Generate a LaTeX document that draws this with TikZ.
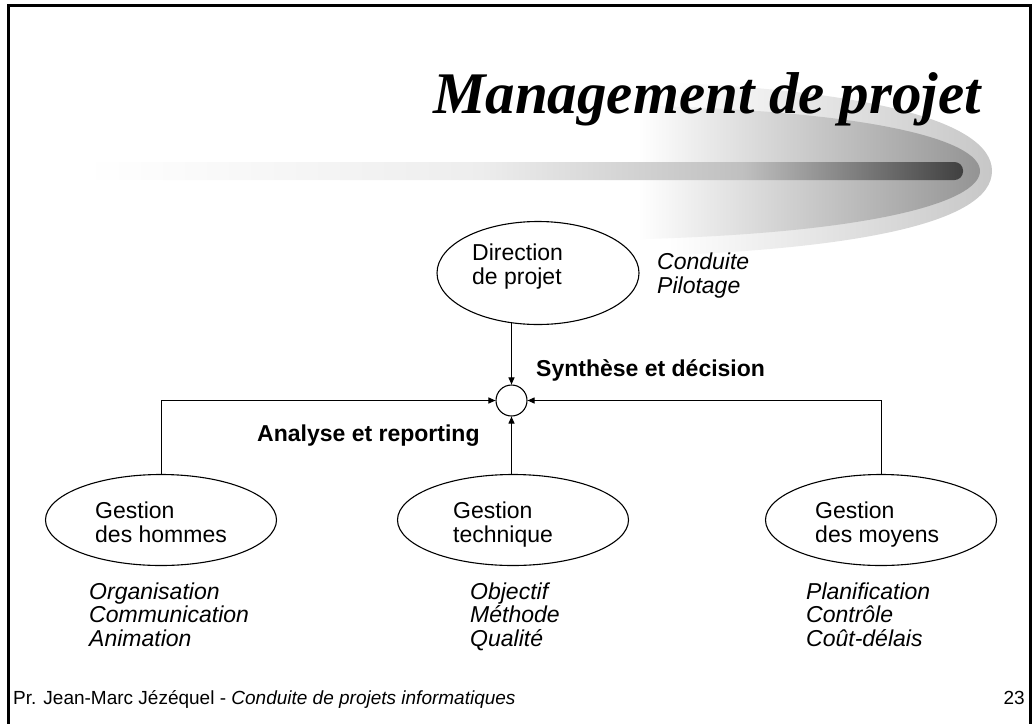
\documentclass[tikz,border=0pt]{standalone}
\usepackage{fontspec}
\setmainfont{Liberation Sans}
\newfontfamily\titlefont{Liberation Serif}
\usetikzlibrary{arrows.meta,backgrounds,shapes.geometric}
\pgfdeclarehorizontalshading{barshade}{100bp}{color(0bp)=(white); color(25bp)=(white); color(47.5bp)=(black!7); color(62.5bp)=(black!25); color(75bp)=(black!75); color(100bp)=(black!75)}
\pgfdeclarehorizontalshading{leafouter}{100bp}{color(0bp)=(white); color(37.5bp)=(white); color(75bp)=(black!22); color(100bp)=(black!22)}
\pgfdeclarehorizontalshading{leafinner}{100bp}{color(0bp)=(white); color(30bp)=(white); color(75bp)=(black!42); color(100bp)=(black!42)}
\tikzset{
  ell/.style={draw, ellipse, fill=white, line width=1.1pt, inner sep=0pt},
  txt/.style={anchor=base west, align=left, inner sep=0pt, font=\fontsize{23}{24.5}\selectfont},
  itxt/.style={txt, font=\fontsize{23}{23.5}\selectfont\itshape},
  btxt/.style={txt, font=\fontsize{23}{24.5}\selectfont\bfseries},
  conn/.style={line width=1pt, -{Triangle[length=7pt,width=6pt]}},
}
\begin{document}
\begin{tikzpicture}[x=1pt,y=-1pt]
\useasboundingbox (0,0) rectangle (1035,723);
\clip (0,0) rectangle (1035,723);
% frame
\draw[line width=3pt] (8,740) -- (8,5) -- (1030,5) -- (1030,740);
% title
\node[anchor=base west, inner sep=0pt, font=\titlefont\fontsize{59}{60}\selectfont\bfseries\itshape] (title) at (433,113) {Management de projet};
% ellipses
\node[ell, minimum width=202pt, minimum height=103pt] (dir) at (538,273) {};
\node[ell, minimum width=231pt, minimum height=91pt] (hom) at (161,520) {};
\node[ell, minimum width=231pt, minimum height=91pt] (tech) at (513,520) {};
\node[ell, minimum width=231pt, minimum height=91pt] (moy) at (881,520) {};
\node[circle, draw, fill=white, minimum size=31pt, inner sep=0pt, line width=1.1pt] (sum) at (511.5,400.5) {};
% texts in ellipses (anchor = baseline of last line)
\node[txt] (dirt) at (472,284.5) {Direction\\de projet};
\node[txt] (homt) at (95,542.5) {Gestion\\des hommes};
\node[txt] (techt) at (453,542.5) {Gestion\\technique};
\node[txt] (moyt) at (815,542.5) {Gestion\\des moyens};
% labels
\node[btxt] (syn) at (536,376) {Synthèse et décision};
\node[btxt] (ana) at (257,441) {Analyse et reporting};
\node[itxt] (cond) at (657,293) {Conduite\\Pilotage};
\node[itxt] (homl) at (89,646) {Organisation\\Communication\\Animation};
\node[itxt] (techl) at (470,646) {Objectif\\Méthode\\Qualité};
\node[itxt] (moyl) at (806,646) {Planification\\Contrôle\\Coût-délais};
% footer
\node[anchor=base west, inner sep=0pt, font=\fontsize{19}{20}\selectfont] (foot) at (13,704) {Pr. Jean-Marc Jézéquel - \textit{Conduite de projets informatiques}};
\node[anchor=base east, inner sep=0pt, font=\fontsize{19}{20}\selectfont] (page) at (1025,704) {23};
\begin{scope}[on background layer]
  % swoosh
  \path[shading=leafouter] (560,80) .. controls (860,82) and (992,120) .. (992,171) .. controls (992,222) and (860,255) .. (560,258) -- cycle;
  \path[shading=leafinner] (600,105) .. controls (870,108) and (980,140) .. (980,171) .. controls (980,202) and (870,236) .. (600,240) -- cycle;
  \path[shading=barshade, rounded corners=8.5pt] (85,162) rectangle (963,180);
  % connectors
  \draw[conn] (sum |- dir.center) -- (sum.north);
  \draw[conn] (hom.center) |- (sum.west);
  \draw[conn] (sum |- tech.center) -- (sum.south);
  \draw[conn] (moy.center) |- (sum.east);
\end{scope}
\end{tikzpicture}
\end{document}
